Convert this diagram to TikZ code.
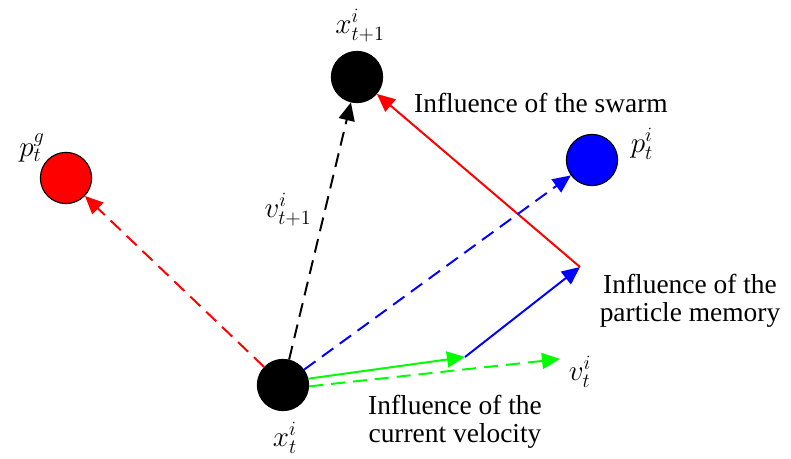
\documentclass[tikz,border=0pt]{standalone}
\usepackage{fontspec}
\setmainfont{Liberation Serif}
\usetikzlibrary{arrows.meta}

\begin{document}
\begin{tikzpicture}[x = 0.025cm, y = -0.025cm,
    every node/.style = {font = \fontsize{19.5}{20}\selectfont},
    ball/.style = {circle, draw = black, line width = 0.8pt, minimum size = 1.28cm, inner sep = 0pt},
    vec/.style = {line width = 1.4pt, -{Triangle[length = 0.45cm, width = 0.4cm]}},
    dvec/.style = {vec, dash pattern = on 0.35cm off 0.2cm}]
    \useasboundingbox (0,0) rectangle (791,459);
    %粒子と最良位置
    \node[ball, fill = black](X)at(283,385){};
    \node[ball, fill = black](Xn)at(357,77){};
    \node[ball, fill = red](Pg)at(66,178){};
    \node[ball, fill = blue](Pi)at(592,160){};
    \coordinate(V)at(465,357);
    \coordinate(M)at(580,267);
    \coordinate(Vt)at(560,359);
    %記号
    \node(lX)at(285,438){$x_t^i$};
    \node(lXn)at(360,26){$x_{t+1}^i$};
    \node(lPg)at(32,148){$p_t^g$};
    \node(lPi)at(642,144){$p_t^i$};
    \node(lVt)at(580,372){$v_t^i$};
    \node(lVn)at(288,210){$v_{t+1}^i$};
    %説明
    \node(swarm)at(541,103){Influence of the swarm};
    \node[align = center](memory)at(690,301){Influence of the\\particle memory};
    \node[align = center](current)at(455,422){Influence of the\\current velocity};
    %速度の成分
    \path[draw, vec, green](X.14)to(V);
    \path[draw, vec, blue](V)to(M);
    \path[draw, vec, red](M)to(Xn);
    %点線
    \path[draw, dvec, green](X.-3)to(Vt);
    \path[draw, dvec, blue](X)to(Pi);
    \path[draw, dvec, black](X)to(Xn);
    \path[draw, dvec, red](X)to(Pg);
\end{tikzpicture}
\end{document}
